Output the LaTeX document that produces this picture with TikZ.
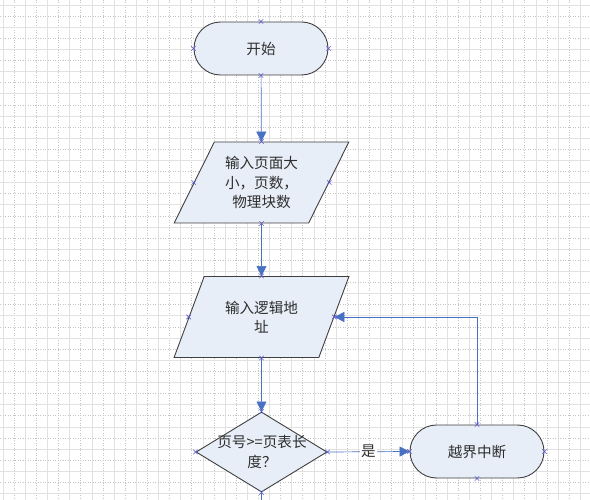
\documentclass[tikz,border=0pt]{standalone}
\usepackage{fontspec}
\newfontfamily\cjk{Noto Sans CJK SC}
\usetikzlibrary{shapes.geometric,arrows.meta}
\definecolor{fillc}{HTML}{E8EEF7}
\definecolor{edgec}{HTML}{404040}
\definecolor{linec}{HTML}{4A70C4}
\definecolor{markc}{HTML}{5B5BD0}
\definecolor{textc}{HTML}{2E2E2E}
\definecolor{gridc}{HTML}{C4C4C4}
\definecolor{gridd}{HTML}{E2E2E2}
\begin{document}
\begin{tikzpicture}[x=1pt,y=-1pt,
  lbl/.style={text=textc, font=\cjk\fontsize{14.6}{19.5}\selectfont, align=center, inner sep=0pt},
  base/.style={lbl, draw=edgec, fill=fillc, line width=0.9pt},
  term/.style={base, rounded corners=26.5pt, minimum width=134pt, minimum height=53pt},
  io/.style={base, trapezium, trapezium left angle=59.4, trapezium right angle=120.6, trapezium stretches=true, minimum width=175pt, minimum height=81pt},
  dec/.style={base, diamond, minimum width=131pt, minimum height=80pt},
  flow/.style={draw=linec, line width=0.7pt, -{Triangle[width=10pt,length=10pt]}},
  plain/.style={draw=linec, line width=0.7pt},
  mk/.style={draw=markc, line width=0.6pt}]
\useasboundingbox (0,0) rectangle (590,500);
\fill[white] (0,0) rectangle (590,500);
% grid
\foreach \i in {0,...,53} {
  \pgfmathtruncatemacro{\r}{mod(\i,2)}
  \ifnum\r=0
    \draw[gridd, line width=0.6pt] ({3+11.1*\i},0) -- ({3+11.1*\i},500);
  \else
    \draw[gridc, line width=0.5pt, dash pattern=on 1pt off 1.5pt] ({3+11.1*\i},0) -- ({3+11.1*\i},500);
  \fi
}
\foreach \j in {0,...,45} {
  \pgfmathtruncatemacro{\r}{mod(\j,2)}
  \ifnum\r=0
    \draw[gridd, line width=0.6pt] (0,{5+11.1*\j}) -- (590,{5+11.1*\j});
  \else
    \draw[gridc, line width=0.5pt, dash pattern=on 1pt off 1.5pt] (0,{5+11.1*\j}) -- (590,{5+11.1*\j});
  \fi
}
% shapes
\node[term] (start) at (261,48.5) {开始};
\node[io] (in1) at (261.5,182.5) {输入页面大\\小，页数，\\物理块数};
\node[io] (in2) at (261.5,317) {输入逻辑地\\址};
\node[dec] (dec) at (261.5,452) {};
\node[lbl] (dect) at (262,452) {页号>=页表长\\度？};
\node[term] (halt) at (477,451.5) {越界中断};
% connectors
\draw[flow] (start) -- (in1);
\draw[flow] (in1) -- (in2);
\draw[flow] (in2) -- (dec);
\draw[flow] (dec.east) -- node[lbl, fill=white, inner sep=1.5pt] (yes) {是} (halt.west);
\draw[flow] (halt.north) |- (in2.east);
\coordinate (dend) at (261.5,500);
\draw[plain] (dec.south) -- (dend);
% connection markers
\foreach \n/\a in {start/north,start/south,start/east,start/west,
                   in1/north,in1/south,in1/east,in1/west,
                   in2/north,in2/south,in2/east,in2/west,
                   dec/north,dec/south,dec/east,dec/west,
                   halt/north,halt/south,halt/east,halt/west} {
  \draw[mk] (\n.\a) +(-2.2,-2.2) -- +(2.2,2.2) +(-2.2,2.2) -- +(2.2,-2.2);
}
\end{tikzpicture}
\end{document}
